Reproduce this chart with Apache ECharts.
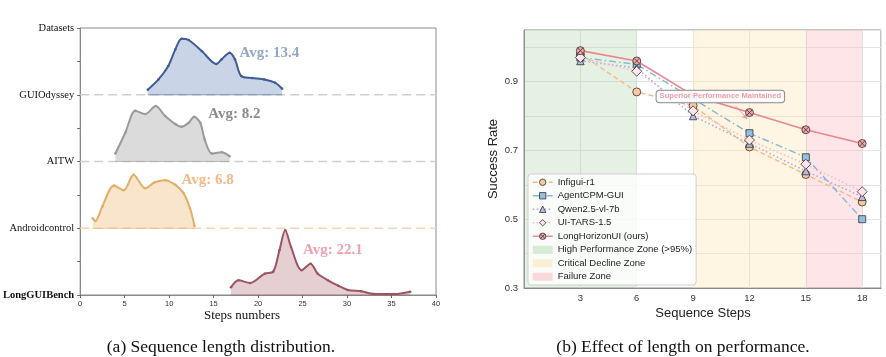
<!DOCTYPE html>
<html><head><meta charset="utf-8">
<script src="https://cdn.jsdelivr.net/npm/echarts@6/dist/echarts.min.js"></script>
<style>html,body{margin:0;padding:0;background:#fff}#c{width:886px;height:357px}</style>
</head><body><div id="c"></div>
<script>
// ---------- Panel (a): sequence length distribution ----------
const datasetNames = ['LongGUIBench', 'Androidcontrol', 'AITW', 'GUIOdyssey', 'Datasets'];
const stepTicks = [0, 5, 10, 15, 20, 25, 30, 35, 40];

const guiOdysseySteps   = [7.6, 8.8, 9.9, 10.7, 11.4, 12.2, 13.7, 15.3, 15.9, 16.8, 17.4, 18.1, 19.3, 20.7, 21.9, 22.7];
const guiOdysseyDensity = [0.075, 0.23, 0.43, 0.68, 0.84, 0.82, 0.65, 0.46, 0.53, 0.63, 0.53, 0.28, 0.25, 0.23, 0.18, 0.09];

const aitwSteps   = [3.96, 5.07, 6.2, 7.3, 8.5, 9.55, 10.7, 11.4, 12.2, 12.8, 13.5, 14.0, 14.8, 15.9, 16.8];
const aitwDensity = [0.12, 0.43, 0.76, 0.71, 0.83, 0.68, 0.56, 0.52, 0.58, 0.67, 0.58, 0.33, 0.12, 0.14, 0.08];

const androidSteps   = [1.4, 1.7, 2.5, 3.8, 4.9, 6.0, 7.3, 8.4, 9.55, 10.7, 11.6, 12.35, 12.85];
const androidDensity = [0.15, 0.11, 0.33, 0.64, 0.57, 0.80, 0.60, 0.69, 0.72, 0.65, 0.53, 0.30, 0.035];

const longGuiSteps   = [16.95, 17.8, 19.1, 20.75, 21.7, 22.4, 23.05, 23.7, 24.9, 25.9, 26.7, 27.85, 29.0, 30.1, 31.6, 33.1, 35.3, 37.1];
const longGuiDensity = [0.115, 0.22, 0.18, 0.32, 0.35, 0.67, 0.97, 0.72, 0.37, 0.47, 0.32, 0.22, 0.14, 0.075, 0.055, 0.015, 0.015, 0.05];

const avgLabels = ['Avg: 13.4', 'Avg: 8.2', 'Avg: 6.8', 'Avg: 22.1'];
const avgLabelX = [17.9, 14.4, 11.4, 25.05];
const avgLabelY = [3.63, 2.71, 1.72, 0.67];

// ---------- Panel (b): effect of length on performance ----------
const seqSteps = [3, 6, 9, 12, 15, 18];
const infigui    = [0.98, 0.87, 0.83, 0.71, 0.63, 0.55];
const agentCpm   = [0.97, 0.95, 0.85, 0.75, 0.68, 0.50];
const qwen       = [0.96, 0.94, 0.80, 0.72, 0.64, 0.565];
const uiTars     = [0.97, 0.93, 0.815, 0.73, 0.66, 0.58];
const longHorizon= [0.99, 0.96, 0.86, 0.81, 0.76, 0.72];
const zones = [
  { name: 'High Performance Zone (>95%)', from: 0, to: 6 },
  { name: 'Critical Decline Zone', from: 9, to: 15 },
  { name: 'Failure Zone', from: 15, to: 18 }
];
const annotationText = 'Superior Performance Maintained';
const annotationAt = [10.45, 0.857];
const arrowFrom = [11.25, 0.83];
const arrowTo = [11.88, 0.792];

const serif = "'Liberation Serif','DejaVu Serif',serif";
const sans = "'Liberation Sans','DejaVu Sans',sans-serif";

function pairs(xs, ys, base) { return xs.map((x, i) => [x, ys[i] + (base || 0)]); }

const ridges = [
  { name: 'GUIOdyssey', base: 3, xs: guiOdysseySteps, ys: guiOdysseyDensity, line: '#3f5c96', fill: 'rgba(150,170,208,0.5)', dash: '#cfcfcf', text: '#7b8fb5' },
  { name: 'AITW', base: 2, xs: aitwSteps, ys: aitwDensity, line: '#9a9a9a', fill: 'rgba(190,190,190,0.55)', dash: '#cfcfcf', text: '#6f6f6f' },
  { name: 'Androidcontrol', base: 1, xs: androidSteps, ys: androidDensity, line: '#e2ae68', fill: 'rgba(244,208,160,0.55)', dash: '#f6d4b4', text: '#f0a868' },
  { name: 'LongGUIBench', base: 0, xs: longGuiSteps, ys: longGuiDensity, line: '#9d5562', fill: 'rgba(205,160,168,0.5)', dash: '#cfcfcf', text: '#ea8b9c' }
];

const series = [];
ridges.forEach(r => {
  if (r.base > 0) {
    series.push({ type: 'line', xAxisIndex: 0, yAxisIndex: 0, silent: true, symbol: 'none', z: 1,
      data: [[stepTicks[0], r.base], [stepTicks[stepTicks.length - 1], r.base]],
      lineStyle: { color: r.dash, width: 1.3, type: [9, 5] } });
  }
});
ridges.forEach((r, i) => {
  series.push({ type: 'line', xAxisIndex: 0, yAxisIndex: 0, silent: true, z: 2,
    data: [[r.xs[0], r.base], [r.xs[r.xs.length - 1], r.base]], symbol: 'none',
    lineStyle: { color: r.line, width: 1, opacity: 0.7 } });
  series.push({ type: 'line', xAxisIndex: 0, yAxisIndex: 0, silent: true, z: 3,
    data: pairs(r.xs, r.ys, r.base), smooth: 0.3,
    symbol: 'circle', symbolSize: 2.5, showSymbol: true,
    itemStyle: { color: r.line },
    lineStyle: { color: r.line, width: 2 },
    areaStyle: { color: r.fill, origin: r.base, opacity: 1 } });
  series.push({ type: 'scatter', xAxisIndex: 0, yAxisIndex: 0, silent: true, z: 5,
    data: [[avgLabelX[i], avgLabelY[i]]], symbolSize: 0,
    label: { show: true, position: 'right', distance: 0, formatter: avgLabels[i],
      color: r.text, fontFamily: serif, fontWeight: 'bold', fontSize: 15 } });
});

const zoneColors = ['rgba(150,200,145,0.26)', 'rgba(252,225,170,0.33)', 'rgba(250,175,182,0.32)'];
const zoneLegend = ['rgba(150,200,145,0.35)', 'rgba(252,225,170,0.45)', 'rgba(250,175,182,0.45)'];
zones.forEach((zn, i) => {
  series.push({ type: 'line', name: zn.name, xAxisIndex: 1, yAxisIndex: 1, data: [], z: 1,
    itemStyle: { color: zoneLegend[i] }, lineStyle: { color: zoneLegend[i] },
    markArea: { silent: true, itemStyle: { color: zoneColors[i] },
      data: [[{ xAxis: zn.from }, { xAxis: zn.to }]] } });
});

const edge = '#333';
const perf = [
  { name: 'Infigui-r1', data: infigui, color: '#f5b98a', fill: '#f7c99c', symbol: 'circle', size: 8, type: [5, 3] },
  { name: 'AgentCPM-GUI', data: agentCpm, color: '#88b5d8', fill: '#94c0df', symbol: 'rect', size: 7, type: [7, 3, 1.5, 3] },
  { name: 'Qwen2.5-vl-7b', data: qwen, color: '#aaa6d8', fill: '#bdb8e6', symbol: 'triangle', size: 7.5, type: [1.5, 2.5] },
  { name: 'UI-TARS-1.5', data: uiTars, color: '#f6b4c4', fill: '#fde3ea', symbol: 'diamond', size: 10, type: [1.5, 2.5] },
  { name: 'LongHorizonUI (ours)', data: longHorizon, color: '#e8878d', fill: '#f3a4aa',
    symbol: 'path://M0,-10A10,10 0 1,1 0,10A10,10 0 1,1 0,-10Z M-6.5,-6.5L6.5,6.5M6.5,-6.5L-6.5,6.5', size: 8, type: 'solid', width: 1.6 }
];
perf.forEach((p, i) => {
  series.push({ type: 'line', name: p.name, xAxisIndex: 1, yAxisIndex: 1, z: 3 + i,
    data: pairs(seqSteps, p.data), symbol: p.symbol, symbolSize: p.size,
    itemStyle: { color: p.fill, borderColor: edge, borderWidth: 0.8 },
    lineStyle: { color: p.color, width: p.width || 1.4, type: p.type } });
});

series.push({ type: 'line', xAxisIndex: 1, yAxisIndex: 1, silent: true, data: [], z: 9,
  markLine: { silent: true, symbol: ['none', 'arrow'], symbolSize: 5, label: { show: false },
    lineStyle: { color: '#f09aa8', width: 1, type: 'solid' },
    data: [[{ coord: arrowFrom }, { coord: arrowTo }]] } });

const staticGraphics = [
  { id: 'tx1', type: 'text', style: { text: 'Steps numbers', font: "13px " + serif, fill: '#111', textAlign: 'center', textVerticalAlign: 'middle' }, x: 242, y: 316 },
  { id: 'tx2', type: 'text', style: { text: 'Sequence Steps', font: "13px " + sans, fill: '#222', textAlign: 'center', textVerticalAlign: 'middle' }, x: 703, y: 313 },
  { id: 'tx3', type: 'text', rotation: Math.PI / 2, style: { text: 'Success Rate', font: "13px " + sans, fill: '#222', textAlign: 'center', textVerticalAlign: 'middle' }, x: 493, y: 159 },
  { id: 'tx4', type: 'text', style: { text: '(a) Sequence length distribution.', font: "17.5px " + serif, fill: '#111', textAlign: 'center', textVerticalAlign: 'middle' }, x: 221, y: 347 },
  { id: 'tx5', type: 'text', style: { text: '(b) Effect of length on performance.', font: "17.5px " + serif, fill: '#111', textAlign: 'center', textVerticalAlign: 'middle' }, x: 683, y: 347 }
];

const chart = echarts.init(document.getElementById('c'), null, { renderer: 'canvas' });
chart.setOption({
  animation: false,
  backgroundColor: '#fff',
  grid: [
    { left: 78, right: 450, top: 28, bottom: 62, show: true, borderColor: '#8a8a8a', borderWidth: 1 },
    { left: 524, right: 5, top: 30, bottom: 69, show: true, borderColor: '#8a8a8a', borderWidth: 1 }
  ],
  xAxis: [
    { type: 'value', gridIndex: 0, min: 0, max: 40, interval: 5,
      axisLine: { show: true, lineStyle: { color: '#8a8a8a' } },
      axisTick: { show: true, length: 3, lineStyle: { color: '#666' } },
      axisLabel: { fontSize: 7.5, color: '#333', fontFamily: sans, margin: 5 },
      splitLine: { show: false } },
    { type: 'value', gridIndex: 1, min: 0, max: 19, interval: 3,
      axisLine: { show: true, lineStyle: { color: '#8a8a8a' } },
      axisTick: { show: false },
      axisLabel: { fontSize: 9.5, color: '#333', fontFamily: sans, margin: 5,
        formatter: v => (v > 0 && v % 3 === 0) ? String(v) : '' },
      splitLine: { show: true, lineStyle: { color: '#e4e4e4', width: 1 } } }
  ],
  yAxis: [
    { type: 'value', gridIndex: 0, min: 0, max: 4, interval: 1,
      axisLine: { show: true, lineStyle: { color: '#8a8a8a' } },
      axisTick: { show: true, length: 3, lineStyle: { color: '#666' } },
      minorTick: { show: true, splitNumber: 2, length: 3, lineStyle: { color: '#666' } },
      axisLabel: { fontSize: 10.5, color: '#111', fontFamily: serif, margin: 6,
        formatter: v => v === 0 ? '{b|' + datasetNames[0] + '}' : (datasetNames[Math.round(v)] || ''),
        rich: { b: { fontWeight: 'bold', fontFamily: serif, fontSize: 10.5, color: '#111' } } },
      splitLine: { show: false } },
    { type: 'value', gridIndex: 1, min: 0.3, max: 1.05, interval: 0.1,
      axisLine: { show: true, lineStyle: { color: '#8a8a8a' } },
      axisTick: { show: false },
      axisLabel: { fontSize: 9.5, color: '#333', fontFamily: sans, margin: 6,
        formatter: v => { const k = Math.round(v * 100); return (k === 30 || k === 50 || k === 70 || k === 90) ? (k / 100).toFixed(1) : ''; } },
      splitLine: { show: true, lineStyle: { color: '#e4e4e4', width: 1 } } }
  ],
  legend: {
    data: perf.map(p => ({ name: p.name,
        itemStyle: { color: p.fill, borderColor: edge, borderWidth: 0.8 },
        lineStyle: { color: p.color, width: 1.4, type: p.type } }))
      .concat(zones.map((z, i) => ({ name: z.name, icon: 'rect', itemStyle: { color: zoneLegend[i], borderWidth: 0 } }))),
    orient: 'vertical', left: 528, top: 174, itemWidth: 20, itemHeight: 8, itemGap: 3,
    padding: [3, 4, 3, 4], selectedMode: false,
    backgroundColor: 'rgba(255,255,255,0.8)', borderColor: '#cfcfcf', borderWidth: 1, borderRadius: 3,
    textStyle: { fontSize: 9.5, color: '#222', fontFamily: sans, lineHeight: 10.5 }
  },
  graphic: staticGraphics,
  series: series
});

const pt = chart.convertToPixel({ xAxisIndex: 1, yAxisIndex: 1 }, annotationAt);
chart.setOption({
  graphic: staticGraphics.concat([{
    id: 'annot', type: 'text', z: 100, zlevel: 2, x: pt[0], y: pt[1], silent: true,
    style: { text: annotationText, font: "bold 7.6px " + sans, fill: '#f39aa9',
      align: 'center', verticalAlign: 'middle',
      backgroundColor: 'rgba(255,255,255,0.92)', borderColor: '#8a8a8a', borderWidth: 1,
      borderRadius: 3, padding: [2, 3, 1.5, 3] }
  }])
});
</script></body></html>
